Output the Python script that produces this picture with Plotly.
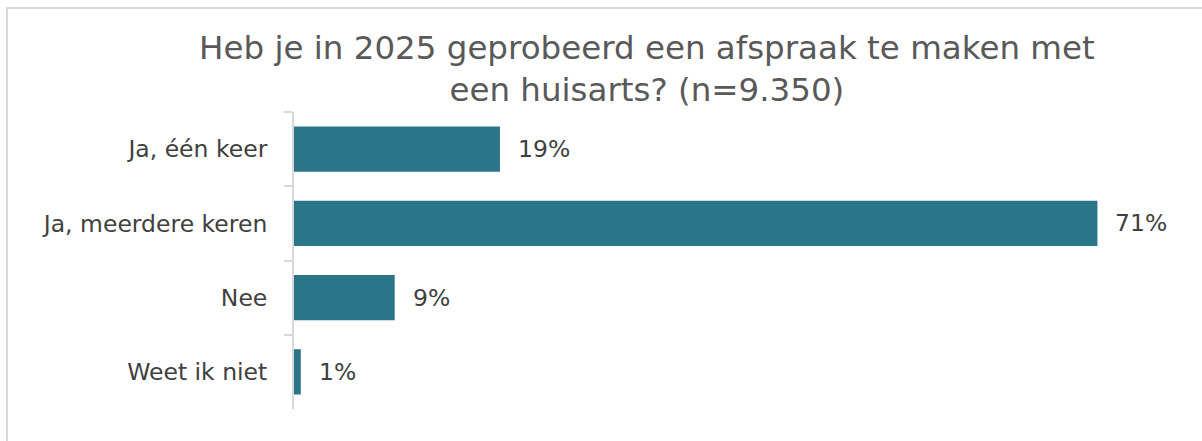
import plotly.graph_objects as go

categories = ["Ja, één keer", "Ja, meerdere keren", "Nee", "Weet ik niet"]
values = [18.2, 71.0, 8.9, 0.6]
labels = ["19%", "71%", "9%", "1%"]

title_text = "Heb je in 2025 geprobeerd een afspraak te maken met<br>een huisarts? (n=9.350)"

W, H = 1202, 441
L, R, T, B = 294, 48, 112, 32
pw = W - L - R
ph = H - T - B

def px_x(p):
    return (p - L) / pw

def px_y(p):
    return (H - B - p) / ph

bar_color = "#2b7589"
font_family = "DejaVu Sans, Verdana, sans-serif"

fig = go.Figure(go.Bar(
    x=values, y=categories, orientation="h",
    marker=dict(color=bar_color, line=dict(width=0)),
    width=0.61, hoverinfo="skip",
))

annotations = []
for c, v, t in zip(categories, values, labels):
    annotations.append(dict(x=v, y=c, xref="x", yref="y", text=t, showarrow=False,
                            xanchor="left", xshift=16,
                            font=dict(family=font_family, size=23.5, color="#404040")))
annotations.append(dict(x=px_x(647), y=px_y(69), xref="paper", yref="paper",
                        text=title_text, showarrow=False, xanchor="center", yanchor="middle",
                        align="center",
                        font=dict(family=font_family, size=32.5, color="#595959")))

fig.update_layout(
    width=W, height=H,
    margin=dict(l=L, r=R, t=T, b=B, pad=0),
    paper_bgcolor="white", plot_bgcolor="white",
    showlegend=False,
    annotations=annotations,
    xaxis=dict(range=[0, 76], visible=False, fixedrange=True),
    yaxis=dict(autorange="reversed", type="category", tickson="boundaries",
               ticks="outside", ticklen=8, tickcolor="#d9d9d9", tickwidth=2,
               showline=True, linecolor="#d9d9d9", linewidth=2,
               showgrid=False, ticklabelstandoff=20,
               tickfont=dict(family=font_family, size=23.5, color="#404040")),
    shapes=[dict(type="rect", xref="paper", yref="paper",
                 x0=px_x(7), x1=px_x(1210), y0=px_y(8), y1=px_y(460),
                 line=dict(color="#d9d9d9", width=2), fillcolor="rgba(0,0,0,0)",
                 layer="below")],
)

fig.write_html("out.html")
